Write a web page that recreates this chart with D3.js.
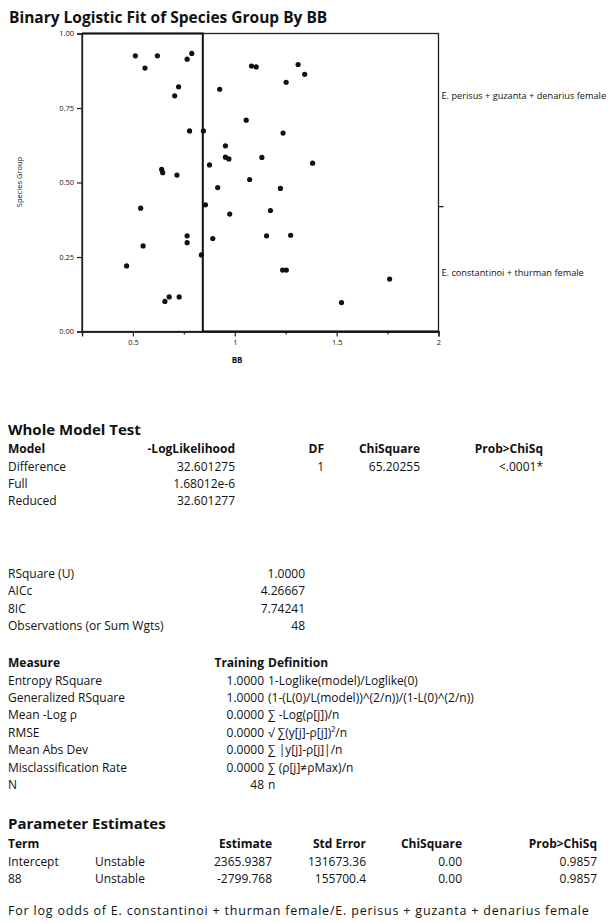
<!DOCTYPE html>
<html>
<head>
<meta charset="utf-8">
<script src="https://cdn.jsdelivr.net/npm/d3@7"></script>
<style>
  html, body { margin: 0; padding: 0; background: #fff; }
  svg { display: block; }
  text { font-family: "Open Sans", Lato, sans-serif; fill: #111; }
</style>
</head>
<body>
<script>
// ---------- DATA ----------
const bbValues = [0.512,0.559,0.620,0.766,0.789,0.724,0.705,0.778,0.846,0.926,
  1.082,1.105,1.056,0.954,1.311,1.343,1.252,1.237,0.954,0.971,
  1.133,0.641,0.646,0.716,0.876,1.073,0.916,1.382,1.224,0.856,
  0.975,1.175,0.538,0.550,0.766,0.766,0.892,1.156,1.274,0.836,
  0.469,1.235,1.253,0.657,0.678,0.727,1.760,1.524];
const groupPos = [0.925,0.884,0.925,0.914,0.933,0.821,0.791,0.673,0.673,0.813,
  0.891,0.888,0.709,0.623,0.896,0.863,0.836,0.666,0.585,0.579,
  0.584,0.544,0.533,0.525,0.559,0.510,0.483,0.565,0.480,0.425,
  0.394,0.406,0.414,0.287,0.321,0.298,0.312,0.321,0.323,0.257,
  0.220,0.206,0.206,0.101,0.116,0.116,0.176,0.097];
const curveX = [0.25, 0.843, 0.843, 2.0];
const curveY = [1, 1, 0, 0];
const xTicks = [0.5, 1, 1.5, 2];
const xMinorTicks = [0.75, 1.25, 1.75];
const yTicks = [0, 0.25, 0.5, 0.75, 1];
const groupSplit = 0.419;
const groupLabels = ["E. perisus + guzanta + denarius female", "E. constantinoi + thurman female"];
const groupLabelPos = [0.79, 0.197];

const chartTitle = "Binary Logistic Fit of Species Group By BB";
const xLabel = "BB";
const yLabel = "Species Group";

const wmHeader = ["Model", "-LogLikelihood", "DF", "ChiSquare", "Prob>ChiSq"];
const wmRows = [
  ["Difference", "32.601275", "1", "65.20255", "<.0001*"],
  ["Full", "1.68012e-6", "", "", ""],
  ["Reduced", "32.601277", "", "", ""]
];
const fitNames = ["RSquare (U)", "AICc", "8IC", "Observations (or Sum Wgts)"];
const fitValues = ["1.0000", "4.26667", "7.74241", "48"];
const measHeader = ["Measure", "Training", "Definition"];
const measNames = ["Entropy RSquare", "Generalized RSquare", "Mean -Log ρ", "RMSE", "Mean Abs Dev", "Misclassification Rate", "N"];
const measTraining = ["1.0000", "1.0000", "0.0000", "0.0000", "0.0000", "0.0000", "48"];
const measDefs = ["1-Loglike(model)/Loglike(0)", "(1-(L(0)/L(model))^(2/n))/(1-L(0)^(2/n))", "∑ -Log(ρ[j])/n", "√ ∑(y[j]-ρ[j])²/n", "∑ |y[j]-ρ[j]|/n", "∑ (ρ[j]≠ρMax)/n", "n"];
const peHeader = ["Term", "", "Estimate", "Std Error", "ChiSquare", "Prob>ChiSq"];
const peRows = [
  ["Intercept", "Unstable", "2365.9387", "131673.36", "0.00", "0.9857"],
  ["88", "Unstable", "-2799.768", "155700.4", "0.00", "0.9857"]
];
const footNote = "For log odds of E. constantinoi + thurman female/E. perisus + guzanta + denarius female";

// ---------- LAYOUT ----------
const W = 613, H = 923;
const svg = d3.select("body").append("svg").attr("width", W).attr("height", H);
svg.append("rect").attr("width", W).attr("height", H).attr("fill", "#fff");

const x = d3.scaleLinear().domain([0.25, 2]).range([82, 438.5]);
const y = d3.scaleLinear().domain([0, 1]).range([331.5, 33.5]);

svg.append("text").attr("x", 9).attr("y", 23).attr("font-size", 15.5).attr("font-weight", 700).text(chartTitle);

// frame
svg.append("rect").attr("x", x(0.25)).attr("y", y(1)).attr("width", x(2) - x(0.25)).attr("height", y(0) - y(1))
  .attr("fill", "none").attr("stroke", "#222").attr("stroke-width", 1.3);

// axes
const xAxis = svg.append("g").attr("transform", `translate(0,${y(0)})`)
  .call(d3.axisBottom(x).tickValues(xTicks).tickSize(5).tickPadding(3).tickFormat(d3.format("")));
const xMinor = svg.append("g").attr("transform", `translate(0,${y(0)})`)
  .call(d3.axisBottom(x).tickValues(xMinorTicks).tickSize(3).tickFormat(""));
const yAxis = svg.append("g").attr("transform", `translate(${x(0.25)},0)`)
  .call(d3.axisLeft(y).tickValues(yTicks).tickSize(5).tickPadding(3).tickFormat(d3.format(".2f")));
[xAxis, xMinor, yAxis].forEach(g => {
  g.select(".domain").attr("stroke", "#222").attr("stroke-width", 1.3);
  g.selectAll(".tick line").attr("stroke", "#222").attr("stroke-width", 1.2);
  g.selectAll(".tick text").attr("font-family", "'Open Sans', sans-serif").attr("font-size", 7.5).attr("fill", "#222");
});

// right axis tick (group split)
svg.append("line").attr("x1", x(2)).attr("x2", x(2) + 5).attr("y1", y(groupSplit)).attr("y2", y(groupSplit))
  .attr("stroke", "#222").attr("stroke-width", 1.3);
groupLabels.forEach((t, i) => {
  svg.append("text").attr("x", x(2) + 3).attr("y", y(groupLabelPos[i])).attr("dy", "0.35em")
    .attr("font-size", 9.2).text(t);
});

// axis labels
svg.append("text").attr("x", 237).attr("y", 363).attr("text-anchor", "middle").attr("font-size", 8).attr("font-weight", 700).text(xLabel);
svg.append("text").attr("transform", `translate(22,182) rotate(-90)`).attr("text-anchor", "middle").attr("font-size", 7.5).text(yLabel);

// logistic curve (step)
const line = d3.line().x(d => x(d[0])).y(d => y(d[1]));
svg.append("path").datum(curveX.map((v, i) => [v, curveY[i]])).attr("d", line)
  .attr("fill", "none").attr("stroke", "#111").attr("stroke-width", 2);

// points
svg.append("g").selectAll("circle").data(bbValues.map((v, i) => [v, groupPos[i]])).join("circle")
  .attr("cx", d => x(d[0])).attr("cy", d => y(d[1])).attr("r", 2.6).attr("fill", "#111");

// ---------- REPORT TEXT ----------
const fs = 12, rowH = 17.4;
function txt(xp, yp, s, opts = {}) {
  const t = svg.append("text").attr("x", xp).attr("y", yp).attr("font-size", opts.size || fs)
    .attr("font-weight", opts.bold ? 700 : 400).attr("text-anchor", opts.anchor || "start").text(s);
  if (opts.spacing) t.attr("letter-spacing", opts.spacing);
  return t;
}

// Whole Model Test
txt(8, 435, "Whole Model Test", { size: 15, bold: true });
const wmX = [8, 235, 324, 420, 543];
const wmAnchor = ["start", "end", "end", "end", "end"];
wmHeader.forEach((h, j) => txt(wmX[j], 453, h, { bold: true, anchor: wmAnchor[j] }));
wmRows.forEach((r, i) => r.forEach((c, j) => { if (c) txt(wmX[j], 470.5 + i * rowH, c, { anchor: wmAnchor[j] }); }));

// Fit stats
fitNames.forEach((n, i) => {
  const yy = 578 + i * rowH;
  txt(8, yy, n);
  txt(305, yy, fitValues[i], { anchor: "end" });
});

// Measures
txt(8, 667, measHeader[0], { bold: true });
txt(264, 667, measHeader[1], { bold: true, anchor: "end" });
txt(268, 667, measHeader[2], { bold: true });
measNames.forEach((n, i) => {
  const yy = 684.5 + i * rowH;
  txt(8, yy, n);
  txt(264, yy, measTraining[i], { anchor: "end" });
  txt(268, yy, measDefs[i]);
});

// Parameter Estimates
txt(8, 829, "Parameter Estimates", { size: 15, bold: true });
const peX = [8, 95, 272, 366, 462, 597];
const peAnchor = ["start", "start", "end", "end", "end", "end"];
peHeader.forEach((h, j) => { if (h) txt(peX[j], 848, h, { bold: true, anchor: peAnchor[j] }); });
peRows.forEach((r, i) => r.forEach((c, j) => txt(peX[j], 865.5 + i * rowH, c, { anchor: peAnchor[j] })));

txt(8, 915, footNote, { size: 12.5, spacing: 0.8 });
</script>
</body>
</html>
